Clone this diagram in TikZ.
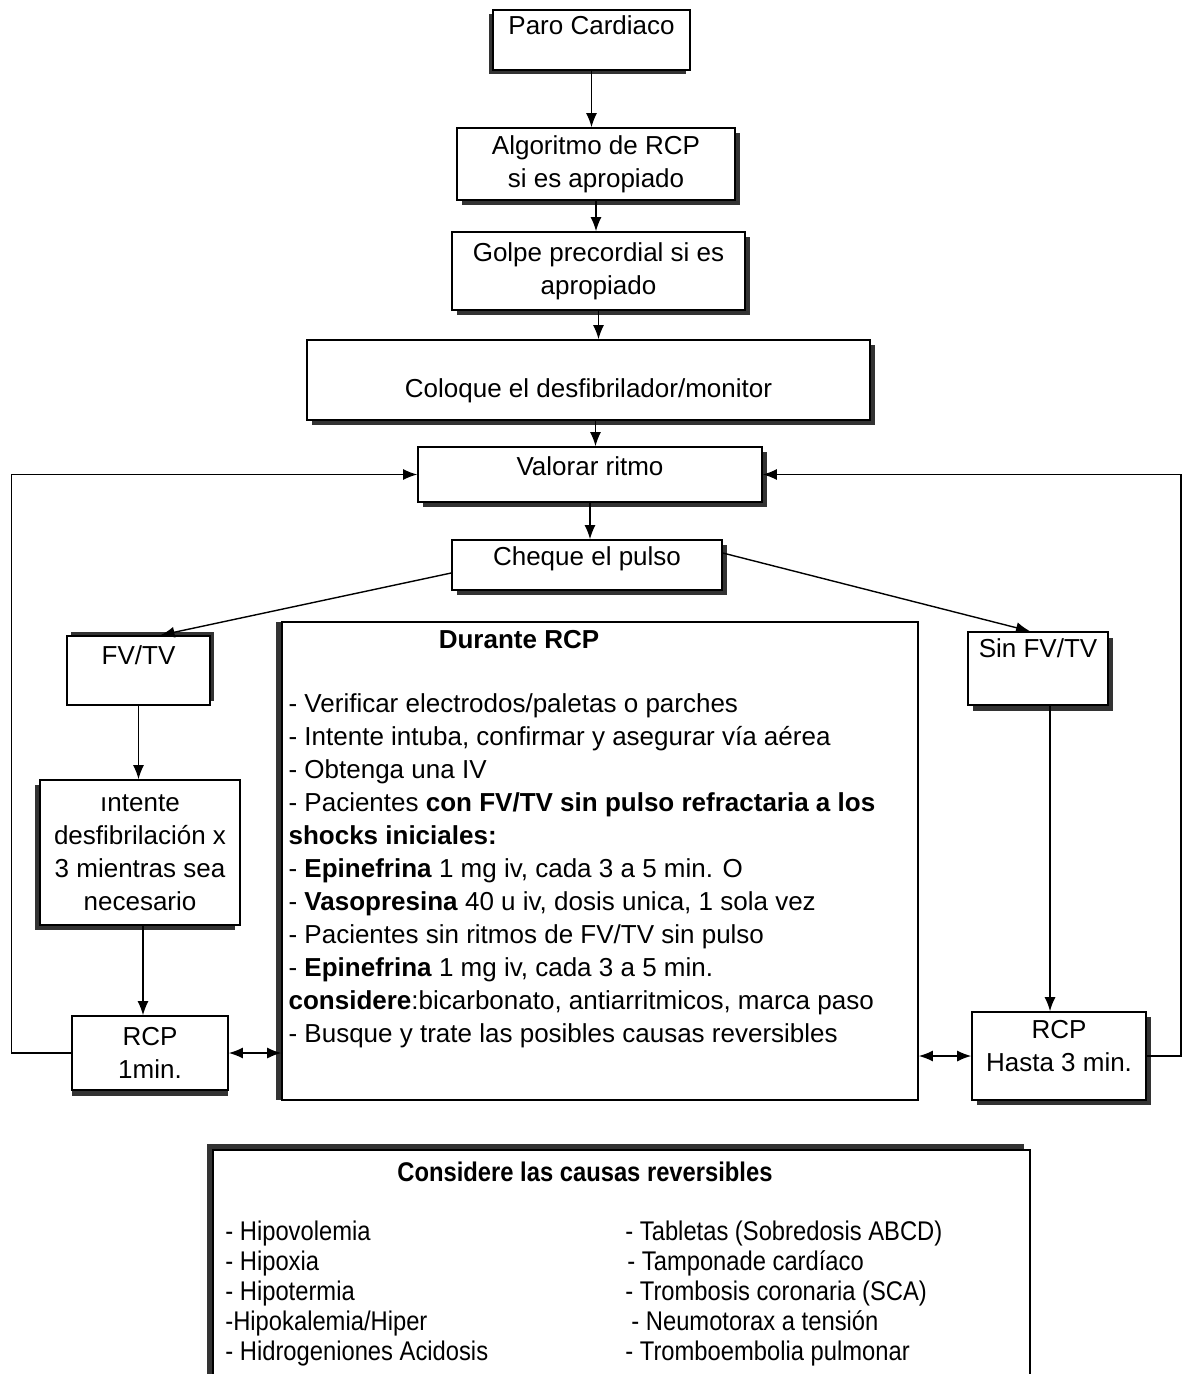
\documentclass[tikz,border=0pt]{standalone}
\usepackage{fontspec}
\setmainfont{Liberation Sans}
\newfontfamily\estrecha[FakeStretch=0.88]{Liberation Sans}
\usetikzlibrary{shadows, positioning, arrows.meta}

\begin{document}
\begin{tikzpicture}[>={Latex[length=7pt,width=5.5pt]}, x=0.5pt, y=-0.5pt,
  caja/.style={draw, fill=white, line width=.8pt, inner sep=0pt, align=center,
    font=\fontsize{13}{16.5}\selectfont},
  sombra/.style 2 args={drop shadow={shadow xshift=#1, shadow yshift=#2,
    fill=black!80, opacity=1}},
  flecha/.style={->, line width=.7pt}]
  \path[use as bounding box, clip] (0,0) rectangle (1182,1374);

  % columna central
  \node[caja, sombra={-2pt}{-2pt}, minimum width=98.5pt, text height=12.5pt, text depth=17.5pt]
    (paro) at (591.5,40) {Paro Cardiaco};
  \node[caja, sombra={2.5pt}{-2.5pt}, minimum width=139pt, minimum height=36pt]
    (algoritmo) at (596,164) {Algoritmo de RCP\\si es apropiado};
  \node[caja, sombra={2.5pt}{-2.5pt}, minimum width=146.5pt, minimum height=39pt]
    (golpe) at (598.5,271) {Golpe precordial si es\\apropiado};
  \node[caja, sombra={2.5pt}{-2.5pt}, minimum width=281.5pt, text height=28.5pt, text depth=11.5pt]
    (coloque) at (588.5,380) {Coloque el desfibrilador/monitor};
  \node[caja, sombra={2.5pt}{-2.5pt}, minimum width=172pt, text height=14pt, text depth=13.5pt]
    (valorar) at (590,474.5) {Valorar ritmo};
  \node[caja, sombra={2.5pt}{-2.5pt}, minimum width=135pt, text height=12.5pt, text depth=12.5pt]
    (cheque) at (587,565) {Cheque el pulso};

  % ramas
  \node[caja, sombra={2pt}{2pt}, minimum width=71.5pt, text height=14pt, text depth=20.5pt]
    (fvtv) at (138.5,670.5) {FV/TV};
  \node[caja, sombra={2.5pt}{-3pt}, minimum width=70pt, text height=12.5pt, text depth=24pt]
    (sinfvtv) at (1038,668.5) {Sin FV/TV};
  \node[caja, sombra={-2.5pt}{-2.5pt}, minimum width=100pt, minimum height=72.5pt]
    (intente) at (140,852.5) {ıntente\\desfibrilación x\\3 mientras sea\\necesario};
  \node[caja, sombra={0pt}{-3pt}, minimum width=78pt, minimum height=37pt]
    (rcpuno) at (150,1053) {RCP\\1min.};
  \node[caja, sombra={2.5pt}{-2.5pt}, minimum width=87pt, minimum height=44pt]
    (rcptres) at (1059,1056) {RCP\\Hasta 3 min.\\[-6pt]\mbox{}};

  % durante RCP
  \node[caja, sombra={-3pt}{0pt}, minimum width=318pt, minimum height=239pt]
    (durante) at (600,861) {};
  \node[font=\fontsize{13}{16.5}\selectfont\bfseries] (durantetitulo) at (519,640) {Durante RCP};
  \node[anchor=north west, align=left, inner sep=0pt, font=\fontsize{13}{16.5}\selectfont]
    (durantelista) at ([shift={(7,72)}]durante.north west) {%
    - Verificar electrodos/paletas o parches\\
    - Intente intuba, confirmar y asegurar vía aérea\\
    - Obtenga una IV\\
    - Pacientes \textbf{con FV/TV sin pulso refractaria a los}\\
    \textbf{shocks iniciales:}\\
    - \textbf{Epinefrina} 1 mg iv, cada 3 a 5 min. O\\
    - \textbf{Vasopresina} 40 u iv, dosis unica, 1 sola vez\\
    - Pacientes sin ritmos de FV/TV sin pulso\\
    - \textbf{Epinefrina} 1 mg iv, cada 3 a 5 min.\\
    \textbf{considere}:bicarbonato, antiarritmicos, marca paso\\
    - Busque y trate las posibles causas reversibles};

  % causas reversibles
  \node[caja, sombra={-3pt}{3pt}, minimum width=408.5pt, minimum height=120pt]
    (causas) at (621.5,1270) {};
  \node[font=\fontsize{13.5}{15}\estrecha\bfseries] (causastitulo) at (585,1172)
    {Considere las causas reversibles};
  \node[anchor=north west, align=left, inner sep=0pt, font=\fontsize{13.5}{15}\estrecha]
    (causasizq) at (225,1221) {%
    - Hipovolemia\\
    - Hipoxia\\
    - Hipotermia\\
    -Hipokalemia/Hiper\\
    - Hidrogeniones Acidosis};
  \node[anchor=north west, align=left, inner sep=0pt, font=\fontsize{13.5}{15}\estrecha]
    (causasder) at (625,1221) {%
    - Tabletas (Sobredosis ABCD)\\
    \hspace*{1pt}- Tamponade cardíaco\\
    - Trombosis coronaria (SCA)\\
    \hspace*{3pt}- Neumotorax a tensión\\
    - Tromboembolia pulmonar};

  % flechas
  \draw[flecha] (paro.south) -- (paro.south |- algoritmo.north);
  \draw[flecha] (algoritmo.south) -- (algoritmo.south |- golpe.north);
  \draw[flecha] (golpe.south) -- (golpe.south |- coloque.north);
  \draw[flecha] ([xshift=3.5pt]coloque.south) -- ([xshift=3.5pt]coloque.south |- valorar.north);
  \draw[flecha] (valorar.south) -- (valorar.south |- cheque.north);
  \draw[flecha] ([yshift=-4pt]cheque.west) -- ([xshift=11pt]fvtv.north);
  \draw[flecha] ([yshift=6pt]cheque.east) -- ([xshift=-4pt]sinfvtv.north);
  \draw[flecha] (fvtv.south) -- (fvtv.south |- intente.north);
  \draw[flecha] ([xshift=1.5pt]intente.south) -- ([xshift=1.5pt]intente.south |- rcpuno.north);
  \draw[flecha] ([xshift=6pt]sinfvtv.south) -- ([xshift=6pt]sinfvtv.south |- rcptres.north);
  \draw[flecha] (rcpuno.west) -- ++(-60,0) |- (valorar.west);
  \draw[flecha] (rcptres.east) -- ++(34,0) |- (valorar.east);
  \draw[flecha, <->] (rcpuno.east) -- (rcpuno.east -| durante.west);
  \draw[flecha, <->] (rcptres.west -| durante.east) -- (rcptres.west);
\end{tikzpicture}
\end{document}
